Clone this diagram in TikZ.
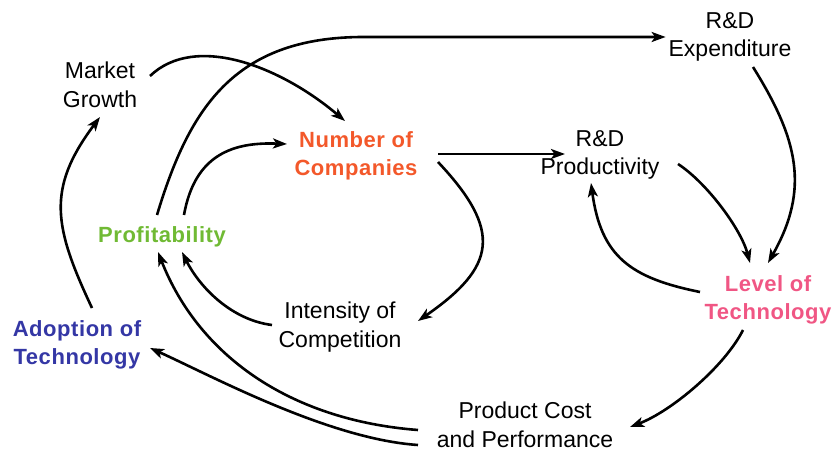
\documentclass[tikz,border=0pt]{standalone}
\usepackage{fontspec}
\setmainfont{Liberation Sans}
\newfontfamily\boldspaced[LetterSpace=2.5]{Liberation Sans Bold}
\usetikzlibrary{arrows.meta,calc}

\definecolor{compred}{RGB}{243,88,42}
\definecolor{profgreen}{RGB}{112,186,52}
\definecolor{adoptblue}{RGB}{52,55,165}
\definecolor{techpink}{RGB}{240,86,132}

\tikzset{
  var/.style={align=center, inner sep=0pt, outer sep=0pt,
    font=\fontsize{23}{28.5}\selectfont},
  keyvar/.style={var, font=\fontsize{22}{28.5}\selectfont\boldspaced},
  link/.style={line width=2.6pt, draw=black,
    -{Stealth[length=14pt,width=10pt,inset=3.5pt]}},
}

\begin{document}
\begin{tikzpicture}[x=1pt,y=1pt]
  \useasboundingbox (0,0) rectangle (838,453);

  % variables of the causal loop diagram
  \node[var] (mg) at (100,368) {Market\\Growth};
  \node[keyvar, text=compred] (nc) at (356,297) {Number of\\Companies};
  \node[var] (rde) at (730,416) {R\&D\\Expenditure};
  \node[var] (rdp) at (600,298) {R\&D\\Productivity};
  \node[keyvar, text=profgreen] (pr) at (162,216) {Profitability};
  \node[var] (ic) at (340,126) {Intensity of\\Competition};
  \node[keyvar, text=adoptblue] (at) at (77,108) {Adoption of\\Technology};
  \node[keyvar, text=techpink] (lt) at (768,153) {Level of\\Technology};
  \node[var] (pc) at (525,28) {Product Cost\\and Performance};

  % causal links
  \draw[link] ($(mg)+(50,9)$) .. controls +(45,43) and +(-65,55) .. ($(nc)+(-11,35)$);
  \draw[link] ($(pr)+(-5,22)$) .. controls +(32,106) and +(-130,0) .. ($(rde.west)+(-305,0)$) -- ($(rde.west)+(-3,0)$);
  \draw[link] ($(pr)+(22,22)$) .. controls +(11,62) and +(-52,2) .. ($(nc)+(-69,12)$);
  \draw[link] ($(nc)+(82,2)$) -- ($(rdp)+(-35,1)$);
  \draw[link] ($(nc)+(82,-6)$) .. controls +(65,-69) and +(78,54) .. ($(ic)+(78,6)$);
  \draw[link] ($(ic)+(-68,2)$) .. controls +(-40,5) and +(18,-36) .. ($(pr)+(20,-15)$);
  \draw[link] ($(lt)+(-68,8)$) .. controls +(-69,14) and +(10,-74) .. ($(rdp)+(-9,-28)$);
  \draw[link] ($(rdp)+(78,-9)$) .. controls +(29,-19) and +(-9,34) .. ($(lt)+(-18,37)$);
  \draw[link] ($(rde)+(23,-30)$) .. controls +(45,-72) and +(42,74) .. ($(lt)+(0,37)$);
  \draw[link] ($(lt)+(-25,-30)$) .. controls +(-18,-36) and +(42,16) .. ($(pc)+(105,-2)$);
  \draw[link] ($(pc)+(-107,-5)$) .. controls +(-130,10) and +(40,-102) .. ($(pr)+(-4,-15)$);
  \draw[link] ($(pc)+(-107,-20)$) .. controls +(-90,6) and +(60,-27) .. ($(at)+(73,-3)$);
  \draw[link] ($(at)+(15,37)$) .. controls +(-38,81) and +(-54,-72) .. ($(mg)+(0,-32)$);
\end{tikzpicture}
\end{document}
